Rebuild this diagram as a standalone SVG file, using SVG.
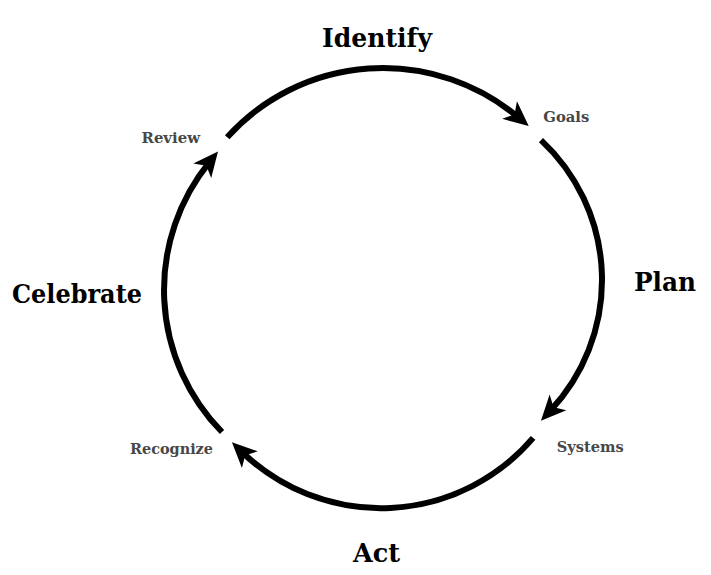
<svg xmlns="http://www.w3.org/2000/svg" width="711" height="575" viewBox="0 0 711 575">
<style>
  .big { font-family: "DejaVu Serif", "Liberation Serif", serif; font-weight: bold; font-size: 26px; fill: #000; }
  .small { font-family: "DejaVu Serif", "Liberation Serif", serif; font-weight: bold; font-size: 14.5px; fill: #474747; }
  .arc { fill: none; stroke: #000; stroke-width: 6; marker-end: url(#ah); }
</style>
<defs>
  <marker id="ah" markerUnits="userSpaceOnUse" viewBox="-12 -12 28 24" refX="0" refY="0" markerWidth="28" markerHeight="24" orient="auto" overflow="visible">
    <path d="M14,0 L-11,-11.5 L-4.5,0 L-11,11.5 Z" fill="#000"/>
  </marker>
</defs>
<rect width="711" height="575" fill="#fff"/>
<g id="connectors">
  <path class="arc" d="M227.2,137.2 A210,210 0 0 1 518,117.1"/>
  <path class="arc" d="M541,140.1 A191,191 0 0 1 550.5,410.5"/>
  <path class="arc" d="M533.1,437.9 A200,200 0 0 1 242,452"/>
  <path class="arc" d="M222,432 A203,203 0 0 1 209.2,162.3"/>
</g>
<g id="identify"><text class="big" x="322" y="47" textLength="110" lengthAdjust="spacingAndGlyphs">Identify</text></g>
<g id="plan"><text class="big" x="634" y="290.5" textLength="62" lengthAdjust="spacingAndGlyphs">Plan</text></g>
<g id="act"><text class="big" x="353" y="562" textLength="47" lengthAdjust="spacingAndGlyphs">Act</text></g>
<g id="celebrate"><text class="big" x="12" y="302.5" textLength="130" lengthAdjust="spacingAndGlyphs">Celebrate</text></g>
<g id="review"><text class="small" x="141.5" y="142.5" textLength="58.5" lengthAdjust="spacingAndGlyphs">Review</text></g>
<g id="goals"><text class="small" x="543.3" y="122.3" textLength="46" lengthAdjust="spacingAndGlyphs">Goals</text></g>
<g id="systems"><text class="small" x="556.7" y="452" textLength="67" lengthAdjust="spacingAndGlyphs">Systems</text></g>
<g id="recognize"><text class="small" x="130" y="454" textLength="83" lengthAdjust="spacingAndGlyphs">Recognize</text></g>
</svg>
